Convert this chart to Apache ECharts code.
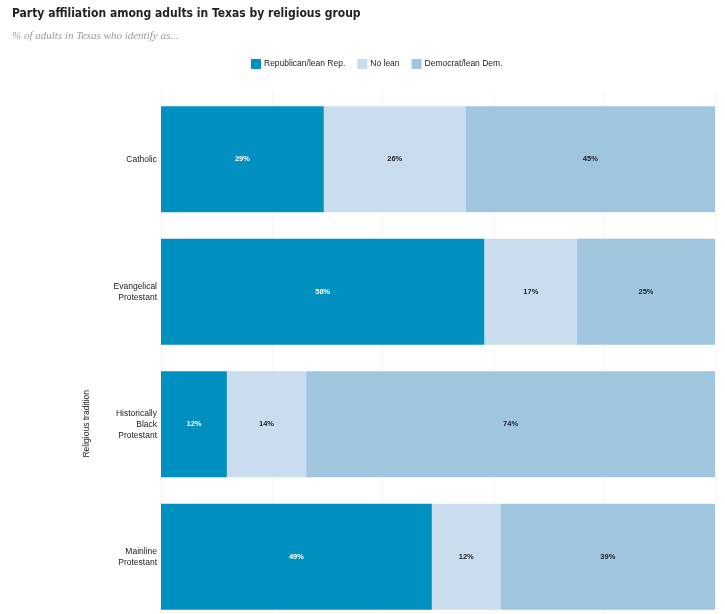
<!DOCTYPE html>
<html><head><meta charset="utf-8">
<script src="https://cdn.jsdelivr.net/npm/echarts@6/dist/echarts.min.js"></script>
<style>html,body{margin:0;padding:0;background:#fff;overflow:hidden}#c{width:725px;height:623px}</style>
</head><body><div id="c"></div>
<script>
const categories = ["Catholic", "Evangelical\nProtestant", "Historically\nBlack\nProtestant", "Mainline\nProtestant"];
const seriesNames = ["Republican/lean Rep.", "No lean", "Democrat/lean Dem."];
const republican = [29.4, 58.4, 11.9, 48.9];
const noLean = [25.6, 16.7, 14.3, 12.4];
const democrat = [45.0, 24.9, 73.8, 38.7];
const xTicks = [0, 20, 40, 60, 80, 100];

const colors = ["#0190c0", "#c9ddee", "#9fc5df"];
const labelColors = ["#ffffff", "#222222", "#222222"];
const values = [republican, noLean, democrat];

const chart = echarts.init(document.getElementById('c'), null, {renderer: 'canvas'});
chart.setOption({
  animation: false,
  title: {
    text: "Party affiliation among adults in Texas by religious group",
    subtext: "% of adults in Texas who identify as...",
    left: 7, top: 3,
    itemGap: 11,
    textStyle: {fontFamily: "'DejaVu Sans Condensed', 'Liberation Sans Narrow', 'Roboto', sans-serif", fontWeight: "bold", fontSize: 12, color: "#222"},
    subtextStyle: {fontFamily: "'Liberation Serif', serif", fontStyle: "italic", fontSize: 11, color: "#9a9a9a"}
  },
  legend: {
    left: 246, top: 54,
    itemWidth: 10, itemHeight: 10, itemGap: 12,
    icon: 'rect',
    textStyle: {fontFamily: "Liberation Sans", fontSize: 8.5, color: "#222", padding: [0,0,0,-2]},
    data: seriesNames
  },
  grid: {left: 161, right: 10, top: 93, bottom: 0},
  xAxis: {
    type: 'value', min: xTicks[0], max: xTicks[xTicks.length-1], interval: 20,
    axisLine: {show: false}, axisTick: {show: false}, axisLabel: {show: false},
    splitLine: {show: true, lineStyle: {color: "#f5f5f5", width: 1}}
  },
  yAxis: {
    type: 'category', inverse: true, data: categories,
    axisLine: {show: false}, axisTick: {show: false},
    axisLabel: {fontFamily: "Liberation Sans", fontSize: 8.5, color: "#222", lineHeight: 11, margin: 4, align: 'right'}
  },
  graphic: [{
    type: 'text', left: 82, top: 390, rotation: Math.PI/2,
    style: {text: "Religious tradition", font: "8.5px 'Liberation Sans'", fill: "#222"}
  }],
  series: seriesNames.map((n, i) => ({
    name: n, type: 'bar', stack: 'total', barWidth: '80%',
    itemStyle: {color: colors[i]},
    label: {show: true, position: 'inside', formatter: p => Math.round(p.value) + '%', fontFamily: "Liberation Sans", fontSize: 7.5, fontWeight: 'bold', color: labelColors[i]},
    data: values[i]
  }))
});
</script></body></html>
